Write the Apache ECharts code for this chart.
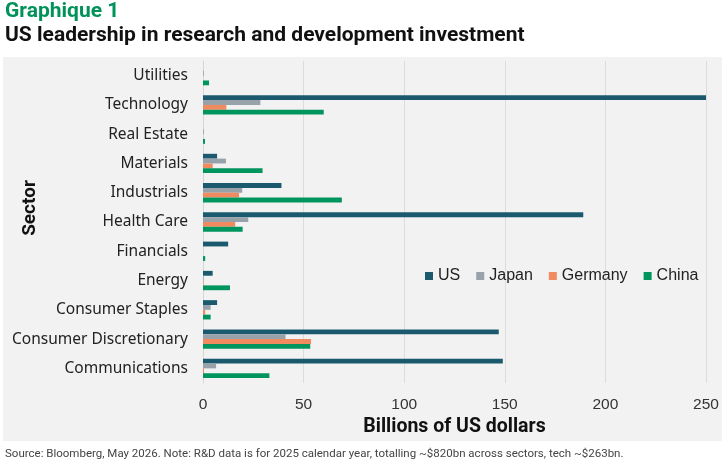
<!DOCTYPE html>
<html>
<head>
<meta charset="utf-8">
<script src="https://cdn.jsdelivr.net/npm/echarts@6/dist/echarts.min.js"></script>
<style>
  html, body { margin: 0; padding: 0; background: #fff; }
  #chart { width: 725px; height: 465px; }
</style>
</head>
<body>
<div id="chart"></div>
<script>
// sectors, top to bottom
const sectors = ['Utilities', 'Technology', 'Real Estate', 'Materials', 'Industrials', 'Health Care',
  'Financials', 'Energy', 'Consumer Staples', 'Consumer Discretionary', 'Communications'];

// R&D spend, billions of US dollars
const us = [0, 250, 0, 7, 39, 189, 12.5, 4.8, 7, 147, 149];
const japan = [0.4, 28.5, 0.4, 11.4, 19.5, 22.5, 0, 0.3, 3.8, 41, 6.5];
const germany = [0, 11.6, 0, 4.8, 17.9, 16, 0, 0.3, 1.1, 53.7, 0.5];
const china = [3, 60, 1, 29.6, 69, 19.7, 1.1, 13.4, 3.8, 53.3, 33];

const xTicks = [0, 50, 100, 150, 200, 250];

const chart = echarts.init(document.getElementById('chart'));

const mkSeries = (name, data, color) => ({
  name,
  type: 'bar',
  data,
  barGap: '0%',
  barCategoryGap: '34%',
  itemStyle: { color },
  emphasis: { disabled: true }
});

chart.setOption({
  animation: false,
  backgroundColor: '#fff',
  graphic: [{
    type: 'rect',
    left: 3, top: 57,
    shape: { width: 719, height: 384 },
    style: { fill: '#f2f2f2' },
    z: -10
  }, {
    // y axis title, sits a bit above the plot centre like the original
    type: 'text',
    x: 30, y: 208,
    rotation: Math.PI / 2,
    style: {
      text: 'Sector',
      align: 'center', verticalAlign: 'middle',
      fontFamily: 'Roboto', fontWeight: 'bold', fontSize: 19, fill: '#111'
    }
  }],
  title: [{
    text: 'Graphique 1',
    left: 5, top: 1, padding: 0,
    textStyle: { fontFamily: 'Roboto', fontWeight: 'bold', fontSize: 21, color: '#00925a' }
  }, {
    text: 'US leadership in research and development investment',
    left: 5, top: 25, padding: 0,
    textStyle: { fontFamily: 'Roboto', fontWeight: 'bold', fontSize: 21, color: '#111' }
  }, {
    text: 'Source: Bloomberg, May 2026. Note: R&D data is for 2025 calendar year, totalling ~$820bn across sectors, tech ~$263bn.',
    left: 5, top: 448, padding: 0,
    textStyle: { fontFamily: 'Roboto', fontWeight: 'normal', fontSize: 11.5, color: '#444' }
  }],
  legend: {
    data: ['US', 'Japan', 'Germany', 'China'],
    left: 420, top: 263,
    itemWidth: 8, itemHeight: 8,
    itemGap: 16,
    icon: 'rect',
    textStyle: { fontFamily: 'Liberation Sans', fontSize: 16, color: '#222' }
  },
  grid: { left: 203, right: 19, top: 61, bottom: 82, containLabel: false, outerBoundsMode: 'none' },
  xAxis: {
    type: 'value',
    min: 0, max: 250, interval: 50,
    name: 'Billions of US dollars',
    nameLocation: 'middle',
    nameGap: 34,
    nameMoveOverlap: false,
    nameTextStyle: { fontFamily: 'Roboto', fontWeight: 'bold', fontSize: 19.5, color: '#111' },
    axisLine: { show: false },
    axisTick: { show: false },
    axisLabel: {
      fontFamily: 'Liberation Sans', fontSize: 15.5, color: '#333', margin: 14,
      formatter: v => (xTicks.includes(v) ? String(v) : '')
    },
    splitLine: { lineStyle: { color: '#dcdcdc', width: 1 } }
  },
  yAxis: {
    type: 'category',
    data: sectors,
    inverse: true,
    axisLine: { show: true, lineStyle: { color: '#d6d6d6' } },
    axisTick: { show: false },
    axisLabel: { fontFamily: 'Noto Sans', fontSize: 15.5, color: '#222', margin: 15 }
  },
  series: [
    mkSeries('US', us, '#1b5a6e'),
    mkSeries('Japan', japan, '#98a2aa'),
    mkSeries('Germany', germany, '#f28a60'),
    mkSeries('China', china, '#00955c')
  ]
});
</script>
</body>
</html>
